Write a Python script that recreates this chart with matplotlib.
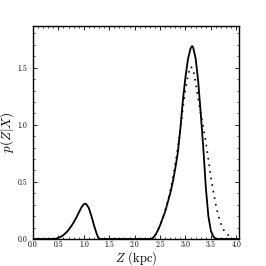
import numpy as np
import matplotlib
matplotlib.use('Agg')
import matplotlib.pyplot as plt
from matplotlib.ticker import MultipleLocator

plt.rcParams['font.family'] = 'cmr10'
plt.rcParams['mathtext.fontset'] = 'cm'
plt.rcParams['axes.formatter.use_mathtext'] = True

# solid curve (two peaks)
z_solid = [0.00, 0.40, 0.45, 0.50, 0.55, 0.60, 0.65, 0.70, 0.75, 0.80, 0.85, 0.90,
           0.95, 1.00, 1.02, 1.05, 1.10, 1.15, 1.20, 1.25, 1.28, 1.30,
           2.30, 2.35, 2.40, 2.45, 2.50, 2.55, 2.60, 2.65, 2.70, 2.75, 2.80, 2.85,
           2.90, 2.95, 3.00, 3.05, 3.10, 3.13, 3.15, 3.20, 3.25, 3.30, 3.35, 3.40,
           3.45, 3.50, 3.55, 3.60, 4.05]
p_solid = [0.0, 0.0, 0.003, 0.01, 0.02, 0.035, 0.055, 0.08, 0.11, 0.145, 0.185, 0.23,
           0.275, 0.305, 0.31, 0.305, 0.27, 0.20, 0.12, 0.05, 0.015, 0.0,
           0.0, 0.005, 0.03, 0.07, 0.12, 0.18, 0.24, 0.32, 0.40, 0.50, 0.62, 0.76,
           0.97, 1.22, 1.42, 1.58, 1.67, 1.69, 1.68, 1.58, 1.38, 1.10, 0.80, 0.45,
           0.20, 0.07, 0.02, 0.0, 0.0]

# dotted curve
z_dot = [2.30, 2.35, 2.40, 2.45, 2.50, 2.55, 2.60, 2.65, 2.70, 2.75, 2.80, 2.85,
         2.90, 2.95, 3.00, 3.05, 3.10, 3.15, 3.20, 3.25, 3.30, 3.35, 3.40, 3.45,
         3.50, 3.55, 3.60, 3.65, 3.70, 3.75, 3.80, 3.85, 3.90, 3.95]
p_dot = [0.0, 0.01, 0.03, 0.07, 0.12, 0.18, 0.25, 0.33, 0.42, 0.53, 0.66, 0.80,
         0.97, 1.15, 1.31, 1.44, 1.51, 1.49, 1.37, 1.23, 1.10, 0.98, 0.85, 0.70,
         0.54, 0.41, 0.29, 0.20, 0.13, 0.08, 0.05, 0.03, 0.01, 0.0]

fig = plt.figure(figsize=(2.66, 2.66), dpi=100)
ax = fig.add_axes([0.124, 0.1015, 0.774, 0.8005])

ax.plot(z_solid, p_solid, '-', color='k', lw=1.3)
ax.plot(z_dot, p_dot, color='k', lw=1.2, linestyle=(0, (1, 3)))

ax.set_xlim(0, 4.05)
ax.set_ylim(0, 1.865)
ax.xaxis.set_major_locator(MultipleLocator(0.5))
ax.xaxis.set_minor_locator(MultipleLocator(0.1))
ax.yaxis.set_major_locator(MultipleLocator(0.5))
ax.yaxis.set_minor_locator(MultipleLocator(0.1))
ax.xaxis.set_major_formatter(matplotlib.ticker.FormatStrFormatter('%.1f'))
ax.yaxis.set_major_formatter(matplotlib.ticker.FormatStrFormatter('%.1f'))
ax.tick_params(which='both', direction='in', top=True, right=True, labelsize=5.5)
ax.tick_params(axis='x', which='major', pad=1.0)
ax.tick_params(axis='y', which='major', pad=4.0)
ax.tick_params(which='major', length=3, width=0.6)
ax.tick_params(which='minor', length=1.5, width=0.5)
for s in ax.spines.values():
    s.set_linewidth(1.0)

ax.set_xlabel('$Z$ (kpc)', fontsize=9, labelpad=0)
ax.set_ylabel('$p(Z|X)$', fontsize=9.5, labelpad=1)

fig.savefig('out.png', dpi=100)
